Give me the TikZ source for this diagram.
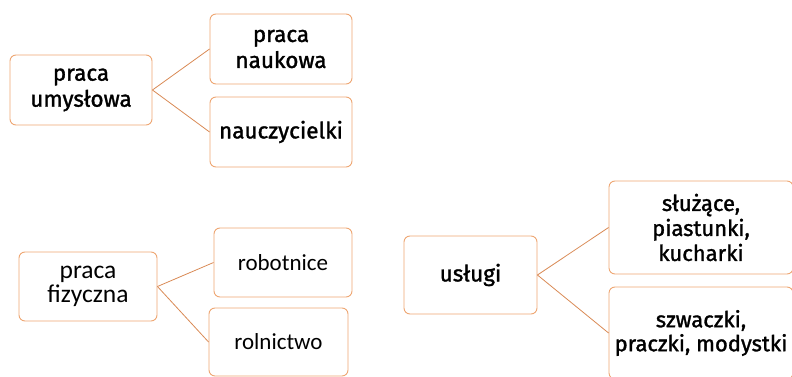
\documentclass[tikz,border=0pt]{standalone}
\usepackage{fontspec}
\setmainfont{Fira Sans}
\newfontfamily\medfont{Fira Sans}[BoldFont={Fira Sans}, BoldFeatures={FakeBold=1.4}]
\newfontfamily\lightfont{Carlito}
\definecolor{boxline}{HTML}{EEA672}
\definecolor{conn}{HTML}{D98A55}
\begin{document}
\begin{tikzpicture}[x=1pt,y=-1pt,
  box/.style={draw=boxline, line width=0.9pt, rounded corners=6pt, fill=white,
    align=center, inner sep=2pt, font=\medfont\bfseries\fontsize{22.5}{26}\selectfont},
  lbox/.style={box, font=\lightfont\fontsize{23}{24}\selectfont},
  link/.style={draw=conn, line width=0.8pt}]
\useasboundingbox (0,0) rectangle (792,377);
\clip (0,0) rectangle (792,377);
\node[box, minimum width=142, minimum height=70] (A) at (81,90) {praca\\umysłowa};
\node[box, minimum width=142, minimum height=70] (B) at (281,49) {praca\\naukowa};
\node[box, minimum width=142, minimum height=70] (C) at (281,132) {nauczycielki};
\node[lbox, minimum width=138, minimum height=69, font=\lightfont\fontsize{25.5}{24}\selectfont] (D) at (88,286.5) {praca\\fizyczna};
\node[lbox, minimum width=138, minimum height=69] (E) at (283,262.5) {robotnice};
\node[lbox, minimum width=139, minimum height=68] (F) at (278.5,342) {rolnictwo};
\node[box, minimum width=133, minimum height=78] (G) at (470.5,275) {usługi};
\node[box, minimum width=184, minimum height=93, font=\medfont\bfseries\fontsize{22}{25}\selectfont] (H) at (701,227.5) {służące,\\piastunki,\\kucharki};
\node[box, minimum width=184, minimum height=92, font=\medfont\bfseries\fontsize{22}{24}\selectfont] (I) at (701,333) {szwaczki,\\praczki, modystki};
\draw[link] (A.east) -- (B.west);
\draw[link] (A.east) -- (C.west);
\draw[link] (D.east) -- (E.west);
\draw[link] (D.east) -- (F.west);
\draw[link] (G.east) -- (H.west);
\draw[link] (G.east) -- (I.west);
\end{tikzpicture}
\end{document}
